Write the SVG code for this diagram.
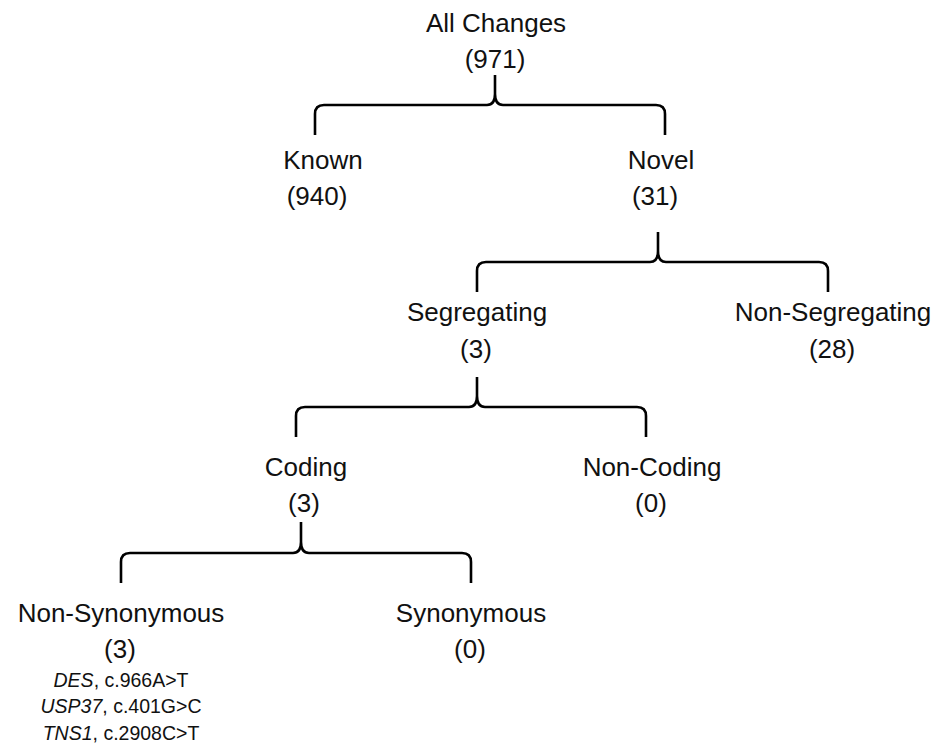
<svg xmlns="http://www.w3.org/2000/svg" width="938" height="746" viewBox="0 0 938 746">
<style>
  text { font-family: "Liberation Sans", Arial, sans-serif; font-size: 26px; fill: #111; text-anchor: middle; }
  text.small { font-size: 19.5px; }
  .brace { fill: none; stroke: #000; stroke-width: 2.6; stroke-linejoin: round; }
</style>
<rect width="938" height="746" fill="#fff"/>
<g id="connectors">
  <path class="brace" d="M315,135 V114 Q315,105 324,105 H487 Q495,105 495,94 V75 M495,94 Q495,105 503,105 H656 Q665,105 665,114 V135"/>
  <path class="brace" d="M477,292 V271 Q477,262 486,262 H650 Q658,262 658,251 V232 M658,251 Q658,262 666,262 H819 Q828,262 828,271 V292"/>
  <path class="brace" d="M296,437 V416 Q296,407 305,407 H469 Q477,407 477,396 V377 M477,396 Q477,407 485,407 H637 Q646,407 646,416 V437"/>
  <path class="brace" d="M121,583 V562 Q121,553 130,553 H293 Q301,553 301,542 V522 M301,542 Q301,553 309,553 H462 Q471,553 471,562 V583"/>
</g>
<g id="all-changes">
  <text x="496" y="32">All Changes</text>
  <text x="495" y="68">(971)</text>
</g>
<g id="known">
  <text x="323" y="169">Known</text>
  <text x="317" y="205">(940)</text>
</g>
<g id="novel">
  <text x="661" y="169">Novel</text>
  <text x="655" y="205">(31)</text>
</g>
<g id="segregating">
  <text x="477" y="321">Segregating</text>
  <text x="476" y="358">(3)</text>
</g>
<g id="non-segregating">
  <text x="833" y="321">Non-Segregating</text>
  <text x="832" y="358">(28)</text>
</g>
<g id="coding">
  <text x="306" y="476">Coding</text>
  <text x="304" y="512">(3)</text>
</g>
<g id="non-coding">
  <text x="652" y="476">Non-Coding</text>
  <text x="651" y="512">(0)</text>
</g>
<g id="non-synonymous">
  <text x="121" y="622">Non-Synonymous</text>
  <text x="120" y="658">(3)</text>
  <text class="small" x="121" y="687"><tspan font-style="italic">DES</tspan>, c.966A&gt;T</text>
  <text class="small" x="121" y="713"><tspan font-style="italic">USP37</tspan>, c.401G&gt;C</text>
  <text class="small" x="121" y="740"><tspan font-style="italic">TNS1</tspan>, c.2908C&gt;T</text>
</g>
<g id="synonymous">
  <text x="471" y="622">Synonymous</text>
  <text x="470" y="658">(0)</text>
</g>
</svg>
